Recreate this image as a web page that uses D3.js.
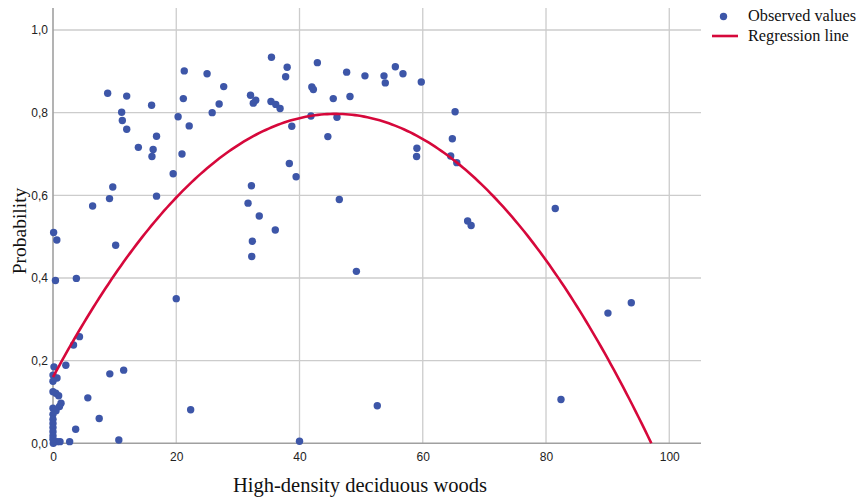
<!DOCTYPE html>
<html>
<head>
<meta charset="utf-8">
<script src="https://cdn.jsdelivr.net/npm/d3@7"></script>
<style>
  html, body { margin: 0; padding: 0; background: #ffffff; }
  svg { display: block; }
</style>
</head>
<body>
<svg id="chart" width="861" height="502"></svg>
<script>
// Observed values: cover of high-density deciduous woods vs. probability
const woodsCover = [
  8.87, 11.96, 11.14, 11.25, 11.96, 16.0, 13.85, 16.8, 16.25, 16.06, 19.5, 9.7, 9.17, 6.43, 16.8,
  21.3, 21.15, 20.3, 22.1, 20.93, 25.0, 27.7, 26.96, 25.83, 32.05, 32.9, 32.5,
  35.45, 38.0, 37.75, 35.37, 36.15, 36.85, 38.75, 38.35, 39.45,
  32.2, 31.65, 33.47, 36.07, 32.35, 32.25,
  42.9, 42.0, 42.25, 45.48, 41.86, 46.08, 44.6,
  47.65, 48.19, 50.62, 53.71, 53.92, 55.55, 56.79, 59.76,
  65.25, 64.8, 59.05, 59.0, 64.53, 65.52,
  46.46, 67.28, 67.85, 81.5, 49.23, 52.62, 82.43, 40.0, 90.05, 93.84, 20.0, 22.34,
  0.1, 0.62, 10.17, 0.4, 3.79, 4.3, 3.33, 0.16, 2.08, 0.65, 9.22, 11.47, 0.45, 0.92, 5.65,
  1.3, 1.05, 0.49, 7.5, 3.68, 10.68, 2.7, 1.14, 0.65, 0.05,
  0, 0, 0, 0, 0, 0, 0, 0, 0, 0, 0
];
const probability = [
  0.847, 0.840, 0.801, 0.781, 0.760, 0.818, 0.716, 0.743, 0.711, 0.694, 0.652, 0.620, 0.592, 0.574, 0.598,
  0.901, 0.834, 0.790, 0.768, 0.700, 0.894, 0.863, 0.821, 0.800, 0.842, 0.830, 0.823,
  0.934, 0.910, 0.887, 0.827, 0.820, 0.810, 0.767, 0.677, 0.645,
  0.623, 0.581, 0.550, 0.516, 0.489, 0.452,
  0.921, 0.862, 0.856, 0.834, 0.792, 0.789, 0.742,
  0.898, 0.839, 0.889, 0.889, 0.872, 0.911, 0.894, 0.874,
  0.802, 0.737, 0.714, 0.694, 0.695, 0.679,
  0.590, 0.538, 0.527, 0.568, 0.416, 0.091, 0.106, 0.005, 0.315, 0.340, 0.350, 0.081,
  0.510, 0.492, 0.479, 0.394, 0.399, 0.258, 0.238, 0.185, 0.189, 0.158, 0.168, 0.177, 0.121, 0.115, 0.110,
  0.097, 0.089, 0.079, 0.060, 0.034, 0.008, 0.004, 0.004, 0.004, 0.000,
  0.165, 0.150, 0.125, 0.085, 0.070, 0.058, 0.048, 0.038, 0.028, 0.018, 0.010
];

// Quadratic regression fit: p = b0 + b1*x + b2*x^2
const coefB0 = 0.16;
const coefB1 = 0.0278;
const coefB2 = -0.0003033;

const xTicks = [0, 20, 40, 60, 80, 100];
const yTicks = [0, 0.2, 0.4, 0.6, 0.8, 1.0];
const legendLabels = ["Observed values", "Regression line"];
const xTitle = "High-density deciduous woods";
const yTitle = "Probability";

const svg = d3.select("#chart");
const plotLeft = 53, plotRight = 701, plotTop = 8, plotBottom = 443.3;

const x = d3.scaleLinear().domain([0, 105.15]).range([plotLeft, plotRight]);
const y = d3.scaleLinear().domain([0, 1.0532]).range([plotBottom, plotTop]);

const comma = d3.formatLocale({ decimal: ",", thousands: ".", grouping: [3], currency: ["", ""] });
const fmtY = comma.format(".1f");

const blue = "#3d56a8";
const red = "#d6083b";
const serif = "'Liberation Serif', 'Times New Roman', serif";

// Gridlines
const grid = svg.append("g");
grid.selectAll("line.gy").data(yTicks.filter(d => d > 0)).join("line")
  .attr("x1", plotLeft).attr("x2", plotRight)
  .attr("y1", d => y(d)).attr("y2", d => y(d))
  .attr("stroke", "#cccccc").attr("stroke-width", 1.3);
grid.selectAll("line.gx").data(xTicks.filter(d => d > 0)).join("line")
  .attr("x1", d => x(d)).attr("x2", d => x(d))
  .attr("y1", plotTop).attr("y2", plotBottom)
  .attr("stroke", "#cccccc").attr("stroke-width", 1.3);

// Axes
const xAxis = d3.axisBottom(x).tickValues(xTicks).tickSize(0).tickPadding(9).tickFormat(d3.format("d"));
const yAxis = d3.axisLeft(y).tickValues(yTicks).tickSize(0).tickPadding(5).tickFormat(fmtY);

const gx = svg.append("g").attr("transform", `translate(0,${plotBottom})`).call(xAxis);
const gy = svg.append("g").attr("transform", `translate(${plotLeft},0)`).call(yAxis);
[gx, gy].forEach(g => {
  g.select(".domain").attr("stroke", "#a0a0a0").attr("stroke-width", 1.6);
  g.selectAll("text").attr("font-family", "'Liberation Sans', Arial, sans-serif")
    .attr("font-size", 12).attr("fill", "#222");
});
gx.select(".domain").attr("d", `M${plotLeft},0H${plotRight}`);
gy.select(".domain").attr("d", `M0,${plotTop}V${plotBottom}`);

// Points
const pts = woodsCover.map((v, i) => ({ x: v, y: probability[i] }));
svg.append("g").selectAll("circle").data(pts).join("circle")
  .attr("cx", d => x(d.x)).attr("cy", d => y(d.y)).attr("r", 3.7)
  .attr("fill", blue);

// Regression curve, drawn up to where it reaches zero
const root = (-coefB1 - Math.sqrt(coefB1 * coefB1 - 4 * coefB2 * coefB0)) / (2 * coefB2);
const xs = d3.range(0, root, 0.5).concat([root]);
const curve = d3.line()
  .x(d => x(d))
  .y(d => y(Math.max(0, coefB0 + coefB1 * d + coefB2 * d * d)));
svg.append("path").datum(xs).attr("d", curve)
  .attr("fill", "none").attr("stroke", red).attr("stroke-width", 2.6);

// Axis titles
svg.append("text").attr("x", 360).attr("y", 492).attr("text-anchor", "middle")
  .attr("font-family", serif).attr("font-size", 20.5)
  .attr("fill", "#111").text(xTitle);
svg.append("text").attr("transform", `translate(26,231) rotate(-90)`)
  .attr("text-anchor", "middle")
  .attr("font-family", serif).attr("font-size", 19.5)
  .attr("fill", "#111").text(yTitle);

// Legend
const lg = svg.append("g");
lg.append("circle").attr("cx", 723.5).attr("cy", 16.5).attr("r", 3.7).attr("fill", blue);
lg.append("line").attr("x1", 712).attr("x2", 738).attr("y1", 36).attr("y2", 36)
  .attr("stroke", red).attr("stroke-width", 2.6);
lg.selectAll("text").data(legendLabels).join("text")
  .attr("x", 748).attr("y", (d, i) => 20.5 + i * 20)
  .attr("font-family", serif).attr("font-size", 16.3)
  .attr("fill", "#111").text(d => d);
</script>
</body>
</html>
